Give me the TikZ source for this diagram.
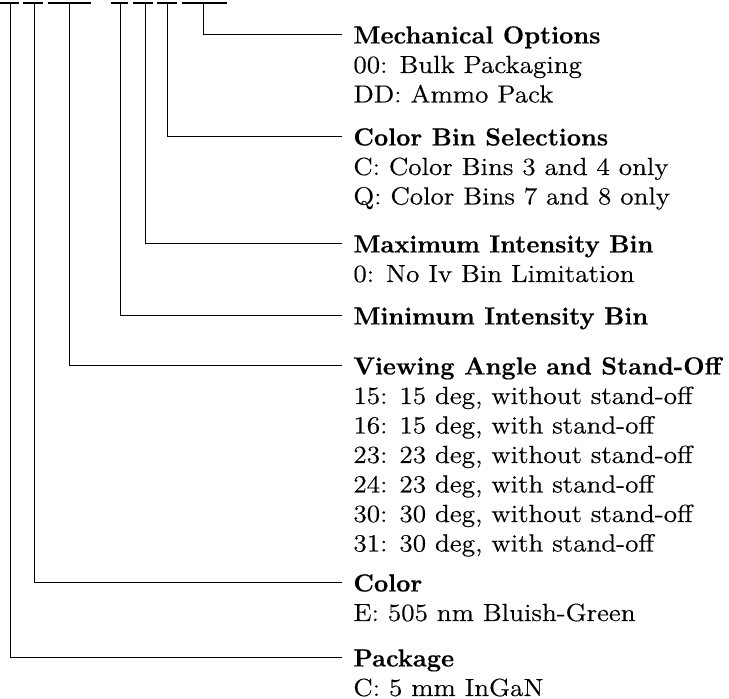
\documentclass[tikz,border=0pt]{standalone}
\usepackage{fontspec}
\newfontfamily\dscfont{Latin Modern Roman}[FakeStretch=1.1,FakeBold=0.4]
\newfontfamily\ttlfont{lmroman10-bold}[Extension=.otf,FakeBold=0.3]
\begin{document}
\begin{tikzpicture}[x=0.5pt,y=-0.5pt,
  bar/.style={line width=1.2pt},
  conn/.style={line width=0.5pt},
  ttl/.style={anchor=base west,inner sep=0pt,font=\ttlfont\fontsize{12.4}{14.75}\selectfont},
  dsc/.style={anchor=base west,inner sep=0pt,font=\dscfont\fontsize{12.4}{14.75}\selectfont}]
\useasboundingbox (0,0) rectangle (729,699);
% top code bars
\coordinate (b1l) at (0,3.3);   \coordinate (b1r) at (19,3.3);
\coordinate (b2l) at (23,3.3);  \coordinate (b2r) at (43,3.3);
\coordinate (b3l) at (48,3.3);  \coordinate (b3r) at (91,3.3);
\coordinate (b4l) at (111,3.3); \coordinate (b4r) at (128,3.3);
\coordinate (b5l) at (133,3.3); \coordinate (b5r) at (153,3.3);
\coordinate (b6l) at (157,3.3); \coordinate (b6r) at (177,3.3);
\coordinate (b7l) at (182,3.3); \coordinate (b7r) at (227,3.3);
\foreach \i in {1,...,7} {\draw[bar] (b\i l) -- (b\i r);}
% connector start points
\coordinate (v1) at (10,3.3);
\coordinate (v2) at (34,3.3);
\coordinate (v3) at (69,3.3);
\coordinate (v4) at (120,3.3);
\coordinate (v5) at (145,3.3);
\coordinate (v6) at (167,3.3);
\coordinate (v7) at (203,3.3);
% titles
\node[ttl] (mech) at (353,43.5) {Mechanical Options};
\node[dsc] (mech1) at (353,73) {00: Bulk Packaging};
\node[dsc] (mech2) at (353,102.5) {DD: Ammo Pack};
\node[ttl] (cbin) at (353,145.5) {Color Bin Selections};
\node[dsc] (cbin1) at (353,175) {C: Color Bins 3 and 4 only};
\node[dsc] (cbin2) at (353,204.5) {Q: Color Bins 7 and 8 only};
\node[ttl] (maxi) at (353,252.5) {Maximum Intensity Bin};
\node[dsc] (maxi1) at (353,282) {0: No Iv Bin Limitation};
\node[ttl] (mini) at (353,324.5) {Minimum Intensity Bin};
\node[ttl] (view) at (353,374.5) {Viewing Angle and Stand-Off};
\node[dsc] (view1) at (353,404) {15: 15 deg, without stand-off};
\node[dsc] (view2) at (353,433.5) {16: 15 deg, with stand-off};
\node[dsc] (view3) at (353,463) {23: 23 deg, without stand-off};
\node[dsc] (view4) at (353,492.5) {24: 23 deg, with stand-off};
\node[dsc] (view5) at (353,522) {30: 30 deg, without stand-off};
\node[dsc] (view6) at (353,551.5) {31: 30 deg, with stand-off};
\node[ttl] (colr) at (353,591.5) {Color};
\node[dsc] (colr1) at (353,621) {E: 505 nm Bluish-Green};
\node[ttl] (pkg) at (353,666.5) {Package};
\node[dsc] (pkg1) at (353,696) {C: 5 mm InGaN};
% connectors
\draw[conn] (v7) |- ([xshift=-5.5pt,yshift=4.25pt]mech.base west);
\draw[conn] (v6) |- ([xshift=-5.5pt,yshift=4.25pt]cbin.base west);
\draw[conn] (v5) |- ([xshift=-5.5pt,yshift=4.25pt]maxi.base west);
\draw[conn] (v4) |- ([xshift=-5.5pt,yshift=4.25pt]mini.base west);
\draw[conn] (v3) |- ([xshift=-5.5pt,yshift=4.25pt]view.base west);
\draw[conn] (v2) |- ([xshift=-5.5pt,yshift=4.25pt]colr.base west);
\draw[conn] (v1) |- ([xshift=-5.5pt,yshift=4.25pt]pkg.base west);
\end{tikzpicture}
\end{document}
